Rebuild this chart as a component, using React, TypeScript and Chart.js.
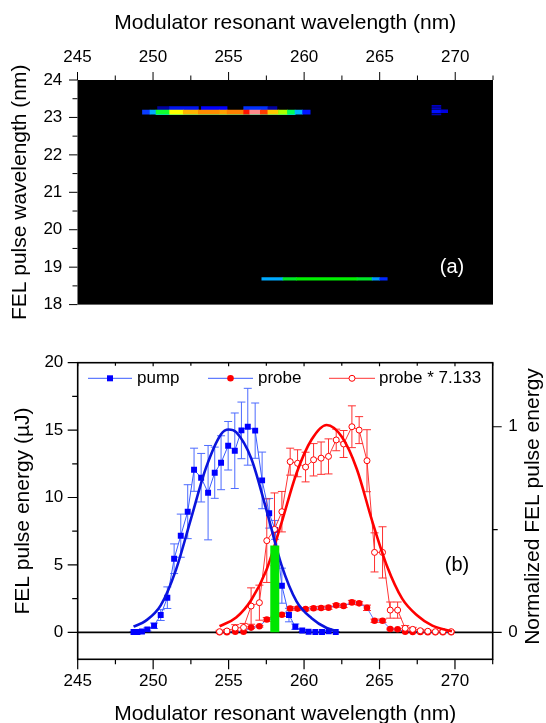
import React, { useEffect, useRef } from "react";
import { Chart, registerables } from "chart.js";

Chart.register(...registerables);

const FONT = "'Liberation Sans', Arial, Helvetica, sans-serif";
Chart.defaults.font.family = FONT;
Chart.defaults.color = "#000";

// ---------- axes ----------
const X_MIN = 245;
const X_MAX = 272.5;
const X_TICKS = [245, 247.5, 250, 252.5, 255, 257.5, 260, 262.5, 265, 267.5, 270, 272.5];
const X_LABELED = [245, 250, 255, 260, 265, 270];
const TOPY_MIN = 18;
const TOPY_MAX = 24;
const TOPY_TICKS = [18, 18.5, 19, 19.5, 20, 20.5, 21, 21.5, 22, 22.5, 23, 23.5, 24];
const TOPY_LABELED = [18, 19, 20, 21, 22, 23, 24];
const E_MIN = -2;
const E_MAX = 20;
const E_TICKS = [0, 2.5, 5, 7.5, 10, 12.5, 15, 17.5, 20];
const E_LABELED = [0, 5, 10, 15, 20];
const NORM_REF = 15.25; // energy (µJ) that corresponds to normalized 1
const N_TICKS = [0, 0.5, 1];
const N_LABELED = [0, 1];

// ---------- panel (a): spectrogram rows  [start nm, end nm, colour] ----------
const heatUpperY = 23.245;
const heatUpperH = 3.2;
const heatUpperCells = [
  [250.3, 251.1, "#0000a0"],
  [251.1, 253.0, "#0014f0"],
  [253.2, 254.9, "#0000ff"],
  [256.0, 257.6, "#0030ff"],
  [257.6, 258.2, "#0000a0"],
];
const heatMainY = 23.14;
const heatMainH = 4.2;
const heatMainCells = [
  [249.3, 249.8, "#0a3cff"],
  [249.8, 250.2, "#00aaff"],
  [250.2, 251.1, "#10ff30"],
  [251.1, 252.0, "#ffff00"],
  [252.0, 253.0, "#ffb400"],
  [253.0, 254.4, "#ff8c00"],
  [254.4, 254.9, "#ffa000"],
  [254.9, 256.0, "#ff8000"],
  [256.0, 256.4, "#ff1000"],
  [256.4, 257.1, "#ff8a8a"],
  [257.1, 257.6, "#ff3c00"],
  [257.6, 258.3, "#ffc800"],
  [258.3, 258.9, "#aaff00"],
  [258.9, 259.4, "#00ff5a"],
  [259.4, 259.9, "#00b4ff"],
  [259.9, 260.4, "#0014ff"],
];
const heatEdgeY = 23.088;
const heatEdgeH = 1.2;
const heatEdgeCells = [
  [250.2, 251.1, "#00c8ff"],
  [251.1, 258.9, "#20e890"],
  [258.9, 259.4, "#00c8ff"],
];
const spotRow1 = [[268.46, 269.05, "#0000c8"]];
const spotRow2 = [[268.46, 269.05, "#0000c8"]];
const spotRow3 = [[268.46, 269.05, "#0010ff"], [269.05, 269.5, "#0000e0"]];
const spotRow4 = [[268.46, 269.05, "#0000b4"]];
const spotY = [23.31, 23.25, 23.165, 23.08];
const spotH = [1.2, 1.2, 2.8, 1.2];
const heatLowY = 18.69;
const heatLowH = 2.6;
const heatLowCells = [
  [257.2, 258.6, "#00aaff"],
  [258.6, 259.5, "#00e628"],
  [259.5, 263.5, "#00f000"],
  [263.5, 264.5, "#00e628"],
  [264.5, 265.0, "#0096ff"],
  [265.0, 265.5, "#0028ff"],
];

// ---------- panel (b): measured energies ----------
const pumpX = [248.70, 248.96, 249.26, 249.62, 250.06, 250.50, 250.94, 251.39, 251.83, 252.29, 252.71, 253.18, 253.64, 254.08, 254.50, 254.97, 255.41, 255.85, 256.27, 256.76, 257.22, 257.69, 258.08, 258.53, 259.00, 259.42, 259.88, 260.30, 260.75, 261.19, 261.63, 262.10];
const pumpY = [0.02, 0.03, 0.06, 0.22, 0.49, 1.28, 2.57, 5.46, 7.17, 8.95, 12.06, 11.47, 10.36, 11.84, 12.58, 13.84, 13.47, 14.98, 15.25, 14.96, 11.27, 8.83, 7.60, 3.46, 1.28, 0.42, 0.13, 0.05, 0.03, 0.03, 0.08, 0.03];
const pumpErr = [0.02, 0.02, 0.04, 0.12, 0.2, 0.4, 0.8, 1.1, 1.6, 2.0, 1.6, 1.8, 3.5, 1.9, 2.0, 1.8, 2.8, 2.1, 2.85, 2.05, 2.1, 1.1, 0.7, 1.3, 0.5, 0.2, 0.08, 0.05, 0.03, 0.03, 0.05, 0.03];

const probeX = [254.40, 254.89, 255.44, 255.99, 256.49, 257.04, 257.53, 258.04, 258.53, 259.08, 259.57, 260.10, 260.63, 261.13, 261.62, 262.13, 262.62, 263.17, 263.65, 264.17, 264.67, 265.20, 265.71, 266.20, 266.70, 267.20, 267.70, 268.20, 268.70, 269.20, 269.75];
const probeY = [0.01, 0.01, 0.05, 0.05, 0.35, 0.45, 0.95, 1.07, 1.30, 1.77, 1.76, 1.72, 1.79, 1.81, 1.83, 2.00, 1.96, 2.22, 2.15, 1.82, 0.86, 0.86, 0.25, 0.23, 0.04, 0.03, 0.02, 0.01, 0.01, 0.01, 0.01];
const probeErr = [0.02, 0.02, 0.04, 0.04, 0.06, 0.06, 0.15, 0.12, 0.12, 0.12, 0.12, 0.12, 0.12, 0.12, 0.12, 0.12, 0.12, 0.15, 0.12, 0.2, 0.12, 0.12, 0.06, 0.06, 0.03, 0.02, 0.02, 0.02, 0.02, 0.02, 0.02];

const scaledY = [0.05, 0.10, 0.32, 0.36, 1.95, 2.20, 6.80, 7.64, 8.95, 12.66, 12.54, 12.26, 12.80, 12.92, 13.05, 14.27, 13.97, 15.25, 15.00, 12.73, 5.93, 5.93, 1.65, 1.65, 0.30, 0.22, 0.12, 0.08, 0.05, 0.06, 0.05];
const scaledErr = [0.10, 0.10, 0.25, 0.30, 1.35, 1.30, 3.10, 2.70, 1.50, 1.00, 1.00, 1.10, 1.20, 1.20, 1.30, 0.80, 1.00, 1.55, 1.00, 2.30, 1.45, 1.90, 0.60, 0.60, 0.20, 0.15, 0.10, 0.08, 0.05, 0.05, 0.05];

// Gaussian fit curves
const pumpFitX = [248.7, 249.5, 250.5, 251.5, 252.5, 253.5, 254.5, 255.0, 255.5, 256.5, 257.5, 258.5, 259.5, 260.5, 261.5, 262.2];
const pumpFitY = [0.42, 0.85, 2.0, 4.6, 8.4, 12.2, 14.7, 15.05, 14.85, 12.9, 9.1, 5.0, 2.3, 1.05, 0.32, 0.08];
const probeFitX = [254.4, 255.5, 256.5, 257.5, 258.5, 259.5, 260.5, 261.5, 262.5, 263.5, 264.5, 265.5, 266.5, 267.5, 268.5, 269.8];
const probeFitY = [0.45, 1.1, 2.4, 4.6, 8.1, 11.8, 14.3, 15.38, 14.5, 12.1, 8.3, 4.9, 2.5, 1.25, 0.5, 0.08];

// overlap marker (green bar)
const overlapX = 258.06;
const overlapTop = 6.45;

const COL_PUMP = "#0000ff";
const COL_PUMP_LINE = "#3a5cff";
const COL_PUMP_FIT = "#0a14dc";
const COL_RED = "#ff0000";
const COL_RED_LINE = "#ff3434";
const COL_GREEN = "#00e600";

const pts = (xs: number[], ys: number[]) => xs.map((x, i) => ({ x, y: ys[i] }));

function tickPlugin(id: string, specs: any[], lw: number) {
  return {
    id,
    afterDraw(chart: any) {
      const { ctx, chartArea } = chart;
      ctx.save();
      ctx.strokeStyle = "#000";
      ctx.lineWidth = lw;
      ctx.beginPath();
      for (const s of specs) {
        const sc = chart.scales[s.scale];
        for (const v of s.values) {
          const len = s.major.includes(v) ? s.majorLen : s.minorLen;
          const p = sc.getPixelForValue(v);
          if (s.edge === "top" || s.edge === "bottom") {
            const e = s.edge === "top" ? chartArea.top : chartArea.bottom;
            ctx.moveTo(p, e);
            ctx.lineTo(p, e + s.dir * len);
          } else {
            const e = s.edge === "left" ? chartArea.left : chartArea.right;
            ctx.moveTo(e, p);
            ctx.lineTo(e + s.dir * len, p);
          }
        }
      }
      ctx.stroke();
      ctx.restore();
    },
  };
}

function topConfig(): any {
  const rows: any[] = [
    [heatMainY, heatMainH, heatMainCells, 0],
    [heatEdgeY, heatEdgeH, heatEdgeCells, 1],
    [heatUpperY, heatUpperH, heatUpperCells, 2],
    [spotY[0], spotH[0], spotRow1, 3],
    [spotY[1], spotH[1], spotRow2, 3],
    [spotY[2], spotH[2], spotRow3, 2],
    [spotY[3], spotH[3], spotRow4, 3],
    [heatLowY, heatLowH, heatLowCells, 1],
  ];
  const datasets = rows.map(([y, h, cells, order]) => ({
    type: "bar",
    data: cells.map((c: any) => ({ y, x: [c[0], c[1]] })),
    backgroundColor: cells.map((c: any) => c[2]),
    borderWidth: 0,
    barThickness: h,
    grouped: false,
    order,
  }));
  return {
    type: "bar",
    data: { datasets },
    options: {
      indexAxis: "y",
      responsive: false,
      animation: false,
      devicePixelRatio: 1,
      events: [],
      layout: { padding: { top: 0, left: 0, right: 53, bottom: 10.5 } },
      plugins: { legend: { display: false }, tooltip: { enabled: false } },
      scales: {
        x: {
          type: "linear",
          position: "top",
          min: X_MIN,
          max: X_MAX,
          offset: false,
          afterBuildTicks: (s: any) => {
            s.ticks = X_TICKS.map((v) => ({ value: v }));
          },
          afterFit: (s: any) => {
            s.height = 80;
          },
          ticks: {
            autoSkip: false,
            maxRotation: 0,
            padding: 12.8,
            font: { size: 17 },
            color: "#000",
            callback: (v: number) => (X_LABELED.includes(v) ? String(v) : ""),
          },
          grid: { display: false, drawTicks: false, offset: false },
          border: { display: false },
          title: {
            display: true,
            text: "Modulator resonant wavelength (nm)",
            font: { size: 21 },
            color: "#000",
            padding: { top: 10.4, bottom: 0 },
          },
        },
        y: {
          type: "linear",
          position: "left",
          min: TOPY_MIN,
          max: TOPY_MAX,
          offset: false,
          afterBuildTicks: (s: any) => {
            s.ticks = TOPY_TICKS.map((v) => ({ value: v }));
          },
          afterFit: (s: any) => {
            s.width = 77.5;
          },
          ticks: {
            autoSkip: false,
            padding: 15.2,
            font: { size: 17 },
            color: "#000",
            callback: (v: number) => (TOPY_LABELED.includes(v) ? String(v) : ""),
          },
          grid: { display: false, drawTicks: false, offset: false },
          border: { display: false },
          title: {
            display: true,
            text: "FEL pulse wavelength (nm)",
            font: { size: 21 },
            color: "#000",
            padding: { top: 7.4, bottom: 0 },
          },
        },
      },
    },
    plugins: [
      {
        id: "blackArea",
        beforeDraw(chart: any) {
          const { ctx, chartArea: a } = chart;
          ctx.save();
          ctx.fillStyle = "#000";
          ctx.fillRect(a.left, a.top, a.right - a.left, a.bottom - a.top);
          ctx.restore();
        },
      },
      tickPlugin(
        "topTicks",
        [
          { scale: "x", values: X_TICKS, major: X_LABELED, edge: "top", dir: -1, majorLen: 8, minorLen: 4.5 },
          { scale: "y", values: TOPY_TICKS, major: TOPY_LABELED, edge: "left", dir: -1, majorLen: 8.5, minorLen: 5 },
        ],
        1
      ),
      {
        id: "panelA",
        afterDraw(chart: any) {
          const { ctx } = chart;
          ctx.save();
          ctx.fillStyle = "#fff";
          ctx.font = `20px ${FONT}`;
          ctx.textAlign = "center";
          ctx.textBaseline = "middle";
          ctx.fillText("(a)", 452, 267);
          ctx.restore();
        },
      },
    ],
  };
}

function errorBarPlugin() {
  const sets = [
    { xs: pumpX, ys: pumpY, es: pumpErr, color: "#4d6bff" },
    { xs: probeX, ys: scaledY, es: scaledErr, color: "#ff3030" },
    { xs: probeX, ys: probeY, es: probeErr, color: "#ff3030" },
  ];
  return {
    id: "errorBars",
    beforeDatasetsDraw(chart: any) {
      const { ctx } = chart;
      const sx = chart.scales.x;
      const sy = chart.scales.y;
      ctx.save();
      ctx.lineWidth = 1;
      for (const s of sets) {
        ctx.strokeStyle = s.color;
        ctx.beginPath();
        s.xs.forEach((x, i) => {
          const px = sx.getPixelForValue(x);
          const top = sy.getPixelForValue(s.ys[i] + s.es[i]);
          const bot = sy.getPixelForValue(s.ys[i] - s.es[i]);
          ctx.moveTo(px, top);
          ctx.lineTo(px, bot);
          ctx.moveTo(px - 4, top);
          ctx.lineTo(px + 4, top);
          ctx.moveTo(px - 4, bot);
          ctx.lineTo(px + 4, bot);
        });
        ctx.stroke();
      }
      ctx.restore();
    },
  };
}

function legendPlugin() {
  const items = [
    { label: "pump", x0: 88, x1: 132, tx: 137, line: COL_PUMP_LINE, marker: "rect" },
    { label: "probe", x0: 208, x1: 253, tx: 258, line: COL_PUMP_LINE, marker: "dot" },
    { label: "probe * 7.133", x0: 329, x1: 375, tx: 379, line: COL_RED_LINE, marker: "ring" },
  ];
  return {
    id: "customLegend",
    afterDraw(chart: any) {
      const { ctx } = chart;
      const y = 48.3;
      ctx.save();
      for (const it of items) {
        ctx.strokeStyle = it.line;
        ctx.lineWidth = 1;
        ctx.beginPath();
        ctx.moveTo(it.x0, y);
        ctx.lineTo(it.x1, y);
        ctx.stroke();
        const cx = (it.x0 + it.x1) / 2;
        if (it.marker === "rect") {
          ctx.fillStyle = COL_PUMP;
          ctx.fillRect(cx - 3, y - 3, 6, 6);
        } else if (it.marker === "dot") {
          ctx.fillStyle = COL_RED;
          ctx.beginPath();
          ctx.arc(cx, y, 3.3, 0, Math.PI * 2);
          ctx.fill();
        } else {
          ctx.fillStyle = "#fff";
          ctx.strokeStyle = COL_RED;
          ctx.beginPath();
          ctx.arc(cx, y, 3, 0, Math.PI * 2);
          ctx.fill();
          ctx.stroke();
        }
        ctx.fillStyle = "#000";
        ctx.font = `17px ${FONT}`;
        ctx.textAlign = "left";
        ctx.textBaseline = "middle";
        ctx.fillText(it.label, it.tx, y);
      }
      // panel letter
      ctx.font = `20px ${FONT}`;
      ctx.textAlign = "center";
      ctx.fillText("(b)", 457, 235);
      // right axis title (reads bottom to top)
      ctx.translate(533, 176.5);
      ctx.rotate(-Math.PI / 2);
      ctx.font = `21px ${FONT}`;
      ctx.fillText("Normalized FEL pulse energy", 0, 0);
      ctx.restore();
    },
  };
}

function boxPlugin() {
  return {
    id: "box",
    afterDraw(chart: any) {
      const { ctx, chartArea: a } = chart;
      ctx.save();
      ctx.strokeStyle = "#000";
      ctx.lineWidth = 1.6;
      ctx.strokeRect(a.left, a.top, a.right - a.left, a.bottom - a.top);
      ctx.restore();
    },
  };
}

function bottomConfig(): any {
  const datasets: any[] = [
    {
      label: "overlap",
      data: [
        { x: overlapX, y: 0 },
        { x: overlapX, y: overlapTop },
      ],
      borderColor: COL_GREEN,
      borderWidth: 9,
      borderCapStyle: "butt",
      pointRadius: 0,
      order: 0,
    },
    {
      label: "pump fit",
      data: pts(pumpFitX, pumpFitY),
      borderColor: COL_PUMP_FIT,
      borderWidth: 2.6,
      pointRadius: 0,
      cubicInterpolationMode: "monotone",
      order: 1,
    },
    {
      label: "probe fit",
      data: pts(probeFitX, probeFitY),
      borderColor: COL_RED,
      borderWidth: 2.6,
      pointRadius: 0,
      cubicInterpolationMode: "monotone",
      order: 1,
    },
    {
      label: "probe * 7.133",
      data: pts(probeX, scaledY),
      borderColor: COL_RED_LINE,
      borderWidth: 1,
      pointStyle: "circle",
      pointRadius: 3,
      pointBackgroundColor: "#fff",
      pointBorderColor: COL_RED,
      pointBorderWidth: 1,
      order: 2,
    },
    {
      label: "probe",
      data: pts(probeX, probeY),
      borderColor: COL_PUMP_LINE,
      borderWidth: 0.8,
      pointStyle: "circle",
      pointRadius: 3.3,
      pointBackgroundColor: COL_RED,
      pointBorderColor: COL_RED,
      pointBorderWidth: 0,
      order: 3,
    },
    {
      label: "pump",
      data: pts(pumpX, pumpY),
      borderColor: COL_PUMP_LINE,
      borderWidth: 1,
      pointStyle: "rect",
      pointRadius: 4.2,
      pointBackgroundColor: COL_PUMP,
      pointBorderColor: COL_PUMP,
      pointBorderWidth: 0,
      order: 4,
    },
    {
      label: "zero",
      data: [
        { x: X_MIN, y: 0 },
        { x: X_MAX, y: 0 },
      ],
      borderColor: "#000",
      borderWidth: 1.6,
      pointRadius: 0,
      order: 9,
    },
  ];
  return {
    type: "line",
    data: { datasets },
    options: {
      responsive: false,
      animation: false,
      devicePixelRatio: 1,
      events: [],
      layout: { padding: { top: 32.7, left: 0, right: 0, bottom: 0 } },
      plugins: { legend: { display: false }, tooltip: { enabled: false } },
      elements: { line: { tension: 0 } },
      scales: {
        x: {
          type: "linear",
          position: "bottom",
          min: X_MIN,
          max: X_MAX,
          afterBuildTicks: (s: any) => {
            s.ticks = X_TICKS.map((v) => ({ value: v }));
          },
          afterFit: (s: any) => {
            s.height = 75.7;
          },
          ticks: {
            autoSkip: false,
            maxRotation: 0,
            padding: 12.2,
            font: { size: 17 },
            color: "#000",
            callback: (v: number) => (X_LABELED.includes(v) ? String(v) : ""),
          },
          grid: { display: false, drawTicks: false },
          border: { display: false },
          title: {
            display: true,
            text: "Modulator resonant wavelength (nm)",
            font: { size: 21 },
            color: "#000",
            padding: { top: 0, bottom: 8.4 },
          },
        },
        y: {
          type: "linear",
          position: "left",
          min: E_MIN,
          max: E_MAX,
          afterBuildTicks: (s: any) => {
            s.ticks = E_TICKS.map((v) => ({ value: v }));
          },
          afterFit: (s: any) => {
            s.width = 77.7;
          },
          ticks: {
            autoSkip: false,
            padding: 14.4,
            font: { size: 17 },
            color: "#000",
            callback: (v: number) => (E_LABELED.includes(v) ? String(v) : ""),
          },
          grid: { display: false, drawTicks: false },
          border: { display: false },
          title: {
            display: true,
            text: "FEL pulse energy (µJ)",
            font: { size: 21 },
            color: "#000",
            padding: { top: 10.4, bottom: 0 },
          },
        },
        y2: {
          type: "linear",
          position: "right",
          min: E_MIN / NORM_REF,
          max: E_MAX / NORM_REF,
          afterBuildTicks: (s: any) => {
            s.ticks = N_TICKS.map((v) => ({ value: v }));
          },
          afterFit: (s: any) => {
            s.width = 53.3;
          },
          ticks: {
            autoSkip: false,
            padding: 15.6,
            font: { size: 17 },
            color: "#000",
            callback: (v: number) => (N_LABELED.includes(v) ? String(v) : ""),
          },
          grid: { display: false, drawTicks: false },
          border: { display: false },
        },
      },
    },
    plugins: [
      errorBarPlugin(),
      boxPlugin(),
      tickPlugin(
        "bottomTicks",
        [
          { scale: "x", values: X_TICKS, major: X_LABELED, edge: "bottom", dir: 1, majorLen: 10, minorLen: 5 },
          { scale: "x", values: X_TICKS, major: X_LABELED, edge: "top", dir: 1, majorLen: 3.5, minorLen: 3 },
          { scale: "y", values: E_TICKS, major: E_LABELED, edge: "left", dir: -1, majorLen: 10, minorLen: 5.5 },
          { scale: "y2", values: N_TICKS, major: N_LABELED, edge: "right", dir: 1, majorLen: 9, minorLen: 5 },
        ],
        1.2
      ),
      legendPlugin(),
    ],
  };
}

export default function App() {
  const topRef = useRef<HTMLCanvasElement>(null);
  const botRef = useRef<HTMLCanvasElement>(null);
  useEffect(() => {
    const top = new Chart(topRef.current as HTMLCanvasElement, topConfig());
    const bot = new Chart(botRef.current as HTMLCanvasElement, bottomConfig());
    return () => {
      top.destroy();
      bot.destroy();
    };
  }, []);
  return (
    <div
      style={{
        position: "absolute",
        left: 0,
        top: 0,
        width: 546,
        height: 723,
        overflow: "hidden",
        background: "#fff",
      }}
    >
      <canvas
        ref={topRef}
        width={546}
        height={330}
        style={{ position: "absolute", left: 0, top: 0, width: 546, height: 330 }}
      />
      <canvas
        ref={botRef}
        width={546}
        height={405}
        style={{ position: "absolute", left: 0, top: 330, width: 546, height: 405 }}
      />
    </div>
  );
}
